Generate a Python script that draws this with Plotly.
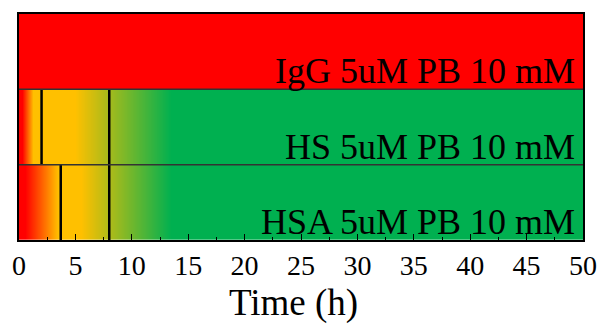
import plotly.graph_objects as go

# Samples (bottom to top)
samples = ["HSA 5uM PB 10 mM", "HS 5uM PB 10 mM", "IgG 5uM PB 10 mM"]

# Colour-stage keypoints per sample: 0 = red, 1 = yellow, 2 = green
hsa_x = [0, 0.5, 3.5, 5.5, 13.5, 50]
hsa_stage = [0, 0, 1, 1, 2, 2]
hs_x = [0, 0.3, 1.2, 5.0, 13.5, 50]
hs_stage = [0, 0, 1, 1, 2, 2]
igg_x = [0, 50]
igg_stage = [0, 0]

# Event markers (h)
hsa_marks = [3.7, 8]
hs_marks = [2, 8]
igg_marks = []

x_ticks = [0, 5, 10, 15, 20, 25, 30, 35, 40, 45, 50]
x_title = "Time (h)"

bands = [(hsa_x, hsa_stage, hsa_marks), (hs_x, hs_stage, hs_marks), (igg_x, igg_stage, igg_marks)]

colorscale = [[0, "#FF0000"], [0.5, "#FFC000"], [1, "#00B050"]]
FONT = "Liberation Serif"

fig = go.Figure()
for i, (xs, st, marks) in enumerate(bands):
    fig.add_trace(go.Heatmap(
        x=xs, y=[i - 0.25, i + 0.25], z=[st, st],
        colorscale=colorscale, zmin=0, zmax=2, zsmooth="best",
        showscale=False, hoverinfo="skip"))
for i, (xs, st, marks) in enumerate(bands):
    for m in marks:
        fig.add_trace(go.Scatter(x=[m, m], y=[i - 0.5, i + 0.5], mode="lines",
                                 line=dict(color="black", width=2.5),
                                 showlegend=False, hoverinfo="skip"))

for k in range(1, len(samples)):
    fig.add_shape(type="line", xref="paper", x0=0, x1=1, yref="y",
                  y0=k - 0.5, y1=k - 0.5, line=dict(color="#333333", width=1.5))

for i, name in enumerate(samples):
    fig.add_annotation(text=name, xref="paper", x=1, xanchor="right", xshift=-6,
                       yref="y", y=i - 0.5, yanchor="bottom", yshift=-4,
                       showarrow=False, font=dict(family=FONT, size=36, color="black"))

fig.add_annotation(text=x_title, xref="paper", x=0.5, xanchor="center", xshift=-8,
                   yref="paper", y=0, yanchor="top", yshift=-40,
                   showarrow=False, font=dict(family=FONT, size=37, color="black"))

fig.update_xaxes(range=[0, 50], tickvals=x_ticks, ticks="inside", ticklen=6,
                 tickcolor="black", tickwidth=1,
                 minor=dict(ticks="inside", ticklen=3, dtick=2.5, tickcolor="black"),
                 showgrid=False, zeroline=False, showline=True, linecolor="black",
                 linewidth=1.5, mirror=True,
                 tickfont=dict(family=FONT, size=28, color="black"))
fig.update_yaxes(range=[-0.5, 2.5], showticklabels=False, ticks="", showgrid=False,
                 zeroline=False, showline=True, linecolor="black", linewidth=1.5, mirror=True)

fig.update_layout(width=609, height=325, margin=dict(l=18, r=17, t=12, b=85),
                  paper_bgcolor="white", plot_bgcolor="white", showlegend=False)

fig.write_html("out.html")
